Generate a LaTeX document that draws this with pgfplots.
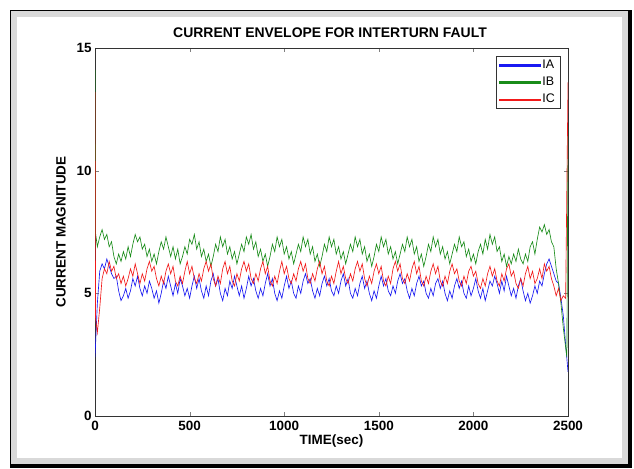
\documentclass[border=0pt]{standalone}
\usepackage{fontspec}
\setmainfont{Liberation Sans}
\usepackage{pgfplots}
\pgfplotsset{compat=1.18}
\definecolor{mblue}{rgb}{0.1,0.1,0.95}
\definecolor{mgreen}{rgb}{0.1,0.55,0.1}
\definecolor{mred}{rgb}{0.95,0.1,0.1}
\begin{document}
\begin{tikzpicture}[x=1bp,y=1bp]
% figure window frame
\fill[white] (0,0) rectangle (634,469);
\fill[black] (10,1) rectangle (632,459);
\fill[gray!30] (11,5) rectangle (628,458);
\fill[white] (17,11) rectangle (622,452);
\node[font=\bfseries\fontsize{14}{16}\selectfont] at (330,436) {CURRENT ENVELOPE FOR INTERTURN FAULT};
\begin{axis}[at={(95bp,53bp)},anchor=south west,scale only axis,
  width=473bp,height=368bp,xmin=0,xmax=2500,ymin=0,ymax=15,
  xtick={0,500,...,2500},ytick={0,5,10,15},
  tick align=inside,major tick length=4bp,
  /pgf/number format/assume math mode=true,
  /pgf/number format/1000 sep={},
  tick label style={font=\bfseries\fontsize{13.5}{15}\selectfont},
  xticklabel style={yshift=-2bp},
  xlabel={TIME(sec)},ylabel={CURRENT MAGNITUDE},
  label style={font=\bfseries\fontsize{13.5}{15}\selectfont},
  xlabel style={yshift=3bp},ylabel style={yshift=4bp},
  axis line style={black!80},
  legend style={at={(1,1)},anchor=north east,xshift=-8bp,yshift=-8bp,
    font=\fontsize{12.5}{14}\selectfont,draw=black!80,row sep=3bp},
  legend cell align=left]
\addlegendimage{legend image code/.code={\fill[mblue] (0cm,-0.6bp) rectangle (1.45cm,0.6bp);}}
\addlegendentry{IA}
\addlegendimage{legend image code/.code={\fill[mgreen] (0cm,-0.6bp) rectangle (1.45cm,0.6bp);}}
\addlegendentry{IB}
\addlegendimage{legend image code/.code={\fill[mred] (0cm,-0.6bp) rectangle (1.45cm,0.6bp);}}
\addlegendentry{IC}
\addplot[draw=mblue,line width=0.65pt,forget plot] coordinates {(0,2.4)(12.5,4.6)(25,5.9)(37.5,6.2)(50,6.0)(62.5,6.4)(75,6.1)(87.5,5.8)(100,5.6)(112.5,5.7)(125,5.1)(137.5,4.7)(150,4.9)(162.5,5.2)(175,4.8)(187.5,5.1)(200,5.6)(212.5,5.3)(225,5.7)(237.5,5.2)(250,4.9)(262.5,5.3)(275,5.0)(287.5,5.5)(300,5.2)(312.5,4.8)(325,5.1)(337.5,4.6)(350,5.0)(362.5,5.5)(375,5.2)(387.5,5.7)(400,5.3)(412.5,4.9)(425,5.4)(437.5,5.0)(450,5.6)(462.5,5.3)(475,4.9)(487.5,5.2)(500,4.8)(512.5,5.3)(525,5.7)(537.5,5.2)(550,5.6)(562.5,5.1)(575,4.8)(587.5,5.3)(600,4.9)(612.5,5.5)(625,5.8)(637.5,5.3)(650,5.6)(662.5,5.0)(675,4.7)(687.5,5.2)(700,4.9)(712.5,5.5)(725,5.2)(737.5,5.7)(750,5.3)(762.5,4.9)(775,5.3)(787.5,4.8)(800,5.2)(812.5,5.7)(825,5.3)(837.5,5.6)(850,5.1)(862.5,4.8)(875,5.2)(887.5,4.9)(900,5.4)(912.5,5.8)(925,5.3)(937.5,5.6)(950,5.0)(962.5,4.7)(975,5.1)(987.5,4.8)(1000,5.3)(1012.5,5.7)(1025,5.2)(1037.5,5.5)(1050,5.0)(1062.5,4.8)(1075,5.3)(1087.5,5.0)(1100,5.5)(1112.5,5.8)(1125,5.4)(1137.5,5.6)(1150,5.1)(1162.5,4.8)(1175,5.2)(1187.5,4.9)(1200,5.4)(1212.5,5.7)(1225,5.3)(1237.5,5.6)(1250,5.1)(1262.5,4.9)(1275,5.3)(1287.5,5.0)(1300,5.5)(1312.5,5.8)(1325,5.3)(1337.5,5.6)(1350,5.0)(1362.5,4.8)(1375,5.2)(1387.5,4.9)(1400,5.4)(1412.5,5.7)(1425,5.2)(1437.5,5.5)(1450,5.0)(1462.5,4.7)(1475,5.1)(1487.5,4.8)(1500,5.3)(1512.5,5.7)(1525,5.3)(1537.5,5.6)(1550,5.1)(1562.5,4.9)(1575,5.3)(1587.5,5.0)(1600,5.5)(1612.5,5.8)(1625,5.4)(1637.5,5.6)(1650,5.1)(1662.5,4.8)(1675,5.2)(1687.5,4.9)(1700,5.4)(1712.5,5.7)(1725,5.3)(1737.5,5.5)(1750,5.0)(1762.5,4.8)(1775,5.2)(1787.5,4.9)(1800,5.4)(1812.5,5.6)(1825,5.2)(1837.5,5.5)(1850,5.0)(1862.5,4.7)(1875,5.1)(1887.5,4.8)(1900,5.3)(1912.5,5.6)(1925,5.2)(1937.5,5.5)(1950,5.0)(1962.5,4.8)(1975,5.3)(1987.5,4.9)(2000,5.2)(2012.5,5.6)(2025,5.1)(2037.5,4.8)(2050,5.2)(2062.5,4.7)(2075,5.1)(2087.5,5.5)(2100,5.3)(2112.5,5.7)(2125,5.4)(2137.5,5.0)(2150,5.5)(2162.5,5.1)(2175,5.7)(2187.5,5.3)(2200,4.9)(2212.5,5.2)(2225,4.8)(2237.5,5.3)(2250,5.6)(2262.5,5.1)(2275,4.7)(2287.5,5.0)(2300,4.6)(2312.5,4.9)(2325,5.3)(2337.5,5.0)(2350,5.5)(2362.5,5.3)(2375,5.8)(2387.5,6.2)(2400,6.4)(2412.5,6.1)(2425,5.8)(2437.5,5.5)(2450,5.4)(2462.5,4.8)(2475,4.1)(2487.5,2.9)(2500,1.8)};
\addplot[draw=mgreen,line width=0.65pt,forget plot] coordinates {(0,14.1)(2,7.5)(12.5,6.9)(25,7.3)(37.5,7.6)(50,7.2)(62.5,7.4)(75,6.9)(87.5,7.1)(100,6.5)(112.5,6.2)(125,6.6)(137.5,6.3)(150,6.7)(162.5,6.4)(175,6.9)(187.5,6.5)(200,7.0)(212.5,7.4)(225,7.1)(237.5,7.3)(250,6.8)(262.5,7.0)(275,6.5)(287.5,6.8)(300,6.3)(312.5,6.6)(325,6.2)(337.5,6.7)(350,7.1)(362.5,6.8)(375,7.3)(387.5,6.9)(400,6.5)(412.5,6.9)(425,6.4)(437.5,6.8)(450,6.2)(462.5,6.5)(475,6.9)(487.5,6.6)(500,7.2)(512.5,7.0)(525,7.4)(537.5,6.8)(550,7.1)(562.5,6.5)(575,6.8)(587.5,6.3)(600,6.6)(612.5,6.1)(625,6.5)(637.5,7.0)(650,6.7)(662.5,7.3)(675,6.9)(687.5,7.2)(700,6.6)(712.5,6.9)(725,6.4)(737.5,6.7)(750,6.2)(762.5,6.6)(775,7.0)(787.5,6.7)(800,7.3)(812.5,7.0)(825,7.4)(837.5,6.8)(850,7.1)(862.5,6.5)(875,6.8)(887.5,6.3)(900,6.6)(912.5,6.1)(925,6.5)(937.5,7.0)(950,6.7)(962.5,7.3)(975,6.9)(987.5,7.2)(1000,6.6)(1012.5,6.9)(1025,6.4)(1037.5,6.7)(1050,6.2)(1062.5,6.6)(1075,7.0)(1087.5,6.7)(1100,7.3)(1112.5,6.9)(1125,7.2)(1137.5,6.6)(1150,6.9)(1162.5,6.3)(1175,6.6)(1187.5,6.1)(1200,6.5)(1212.5,7.0)(1225,6.7)(1237.5,7.3)(1250,6.9)(1262.5,7.2)(1275,6.6)(1287.5,6.9)(1300,6.4)(1312.5,6.7)(1325,6.2)(1337.5,6.6)(1350,7.0)(1362.5,6.7)(1375,7.3)(1387.5,6.9)(1400,7.2)(1412.5,6.6)(1425,6.9)(1437.5,6.3)(1450,6.6)(1462.5,6.1)(1475,6.5)(1487.5,7.0)(1500,6.7)(1512.5,7.3)(1525,6.9)(1537.5,7.2)(1550,6.6)(1562.5,6.9)(1575,6.4)(1587.5,6.7)(1600,6.2)(1612.5,6.6)(1625,7.0)(1637.5,6.7)(1650,7.3)(1662.5,6.9)(1675,7.2)(1687.5,6.6)(1700,6.9)(1712.5,6.3)(1725,6.6)(1737.5,6.1)(1750,6.5)(1762.5,7.0)(1775,6.7)(1787.5,7.3)(1800,6.9)(1812.5,7.2)(1825,6.6)(1837.5,6.9)(1850,6.4)(1862.5,6.7)(1875,6.2)(1887.5,6.6)(1900,7.0)(1912.5,6.7)(1925,7.3)(1937.5,6.9)(1950,7.1)(1962.5,6.5)(1975,6.8)(1987.5,6.3)(2000,6.6)(2012.5,6.2)(2025,6.7)(2037.5,7.0)(2050,6.6)(2062.5,7.2)(2075,6.8)(2087.5,7.4)(2100,7.0)(2112.5,7.3)(2125,6.7)(2137.5,6.9)(2150,6.3)(2162.5,6.6)(2175,6.1)(2187.5,6.5)(2200,6.2)(2212.5,6.6)(2225,6.3)(2237.5,6.8)(2250,6.4)(2262.5,6.2)(2275,6.6)(2287.5,6.3)(2300,6.9)(2312.5,7.1)(2325,6.6)(2337.5,7.2)(2350,7.7)(2362.5,7.5)(2375,7.8)(2387.5,7.4)(2400,7.6)(2412.5,7.1)(2425,6.9)(2437.5,6.0)(2450,5.4)(2462.5,4.6)(2475,3.6)(2487.5,2.8)(2494,2.4)(2500,11.8)};
\addplot[draw=mred,line width=0.65pt,forget plot] coordinates {(0,13.2)(3,4.0)(12.5,3.4)(25,4.4)(37.5,5.6)(50,6.0)(62.5,5.8)(75,6.3)(87.5,5.9)(100,6.1)(112.5,5.6)(125,5.8)(137.5,5.4)(150,5.7)(162.5,5.3)(175,5.6)(187.5,6.0)(200,5.7)(212.5,6.2)(225,5.8)(237.5,5.4)(250,5.8)(262.5,5.5)(275,6.0)(287.5,6.3)(300,5.9)(312.5,6.1)(325,5.6)(337.5,5.3)(350,5.7)(362.5,5.4)(375,5.9)(387.5,6.2)(400,5.8)(412.5,6.1)(425,5.5)(437.5,5.3)(450,5.7)(462.5,5.4)(475,5.9)(487.5,6.3)(500,5.8)(512.5,6.1)(525,5.6)(537.5,5.4)(550,5.8)(562.5,5.5)(575,6.0)(587.5,6.3)(600,5.9)(612.5,6.2)(625,5.6)(637.5,5.3)(650,5.7)(662.5,5.4)(675,6.0)(687.5,6.3)(700,5.8)(712.5,6.1)(725,5.5)(737.5,5.3)(750,5.8)(762.5,5.5)(775,6.0)(787.5,6.3)(800,5.9)(812.5,6.2)(825,5.6)(837.5,5.4)(850,5.8)(862.5,5.5)(875,6.0)(887.5,6.3)(900,5.8)(912.5,6.1)(925,5.5)(937.5,5.3)(950,5.7)(962.5,5.4)(975,5.9)(987.5,6.3)(1000,5.8)(1012.5,6.1)(1025,5.6)(1037.5,5.4)(1050,5.8)(1062.5,5.5)(1075,6.0)(1087.5,6.3)(1100,5.9)(1112.5,6.2)(1125,5.6)(1137.5,5.4)(1150,5.8)(1162.5,5.5)(1175,6.0)(1187.5,6.3)(1200,5.8)(1212.5,6.1)(1225,5.5)(1237.5,5.3)(1250,5.7)(1262.5,5.4)(1275,5.9)(1287.5,6.3)(1300,5.8)(1312.5,6.1)(1325,5.6)(1337.5,5.4)(1350,5.8)(1362.5,5.5)(1375,6.0)(1387.5,6.3)(1400,5.9)(1412.5,6.2)(1425,5.6)(1437.5,5.3)(1450,5.7)(1462.5,5.4)(1475,5.9)(1487.5,6.2)(1500,5.8)(1512.5,6.1)(1525,5.5)(1537.5,5.3)(1550,5.7)(1562.5,5.4)(1575,6.0)(1587.5,6.3)(1600,5.9)(1612.5,6.2)(1625,5.6)(1637.5,5.4)(1650,5.8)(1662.5,5.5)(1675,6.0)(1687.5,6.3)(1700,5.8)(1712.5,6.1)(1725,5.5)(1737.5,5.3)(1750,5.7)(1762.5,5.4)(1775,5.9)(1787.5,6.2)(1800,5.8)(1812.5,6.1)(1825,5.5)(1837.5,5.3)(1850,5.7)(1862.5,5.4)(1875,5.9)(1887.5,6.2)(1900,5.8)(1912.5,6.0)(1925,5.5)(1937.5,5.3)(1950,5.7)(1962.5,5.4)(1975,5.9)(1987.5,6.1)(2000,5.7)(2012.5,5.9)(2025,5.4)(2037.5,5.2)(2050,5.6)(2062.5,5.3)(2075,5.8)(2087.5,6.1)(2100,5.7)(2112.5,6.0)(2125,5.5)(2137.5,5.3)(2150,5.8)(2162.5,5.5)(2175,6.0)(2187.5,6.2)(2200,5.7)(2212.5,5.9)(2225,5.4)(2237.5,5.2)(2250,5.6)(2262.5,5.3)(2275,5.8)(2287.5,6.1)(2300,5.6)(2312.5,5.9)(2325,5.4)(2337.5,5.6)(2350,6.0)(2362.5,5.6)(2375,6.2)(2387.5,5.9)(2400,6.1)(2412.5,5.6)(2425,5.3)(2437.5,4.9)(2450,5.2)(2462.5,4.7)(2475,4.9)(2487.5,4.8)(2500,13.6)};
\end{axis}
\end{tikzpicture}
\end{document}
